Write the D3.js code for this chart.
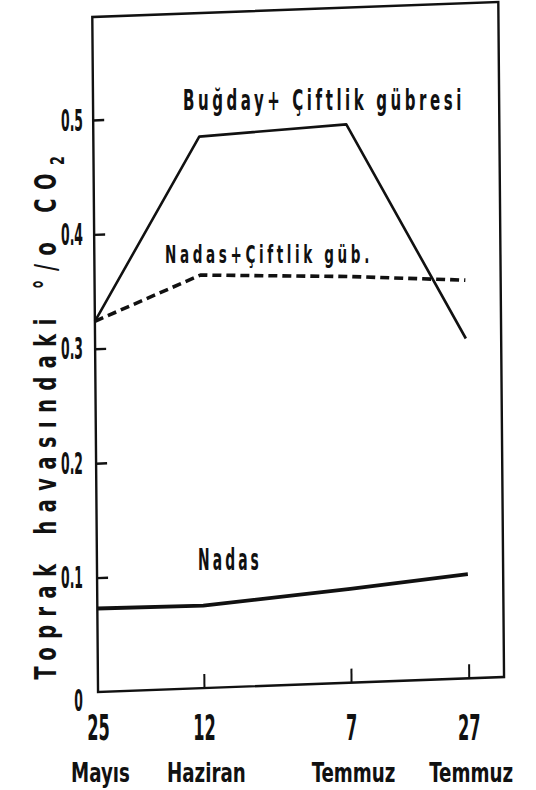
<!DOCTYPE html>
<html>
<head>
<meta charset="utf-8">
<script src="https://cdn.jsdelivr.net/npm/d3@7"></script>
<style>
  html, body { margin: 0; padding: 0; background: #fff; }
  svg { display: block; }
  text { font-family: "DejaVu Sans Condensed", "DejaVu Sans", sans-serif; font-weight: bold; fill: #111; }
</style>
</head>
<body>
<svg id="chart" width="536" height="790"></svg>
<script>
// Sampling dates (month-day) and their two-line axis labels
const sampleDates = ["05-25", "06-12", "07-07", "07-27"];
const dayLabels = ["25", "12", "7", "27"];
const monthLabels = ["Mayıs", "Haziran", "Temmuz", "Temmuz"];

// CO2 content of soil air (%) for each treatment
const seriesNames = ["Buğday+ Çiftlik gübresi", "Nadas+Çiftlik güb.", "Nadas"];
const bugdayGubre = [0.324, 0.482, 0.488, 0.297];
const nadasGubre = [0.324, 0.361, 0.355, 0.348];
const nadas = [0.073, 0.072, 0.082, 0.091];

// Value axis ticks
const yTicks = [0, 0.1, 0.2, 0.3, 0.4, 0.5];
const yTickLabels = ["0", "0.1", "0.2", "0.3", "0.4", "0.5"];

const parse = d3.timeParse("%m-%d");
const dates = sampleDates.map(parse);

const W = 406, H = 675;
const x = d3.scaleTime().domain([parse("05-25"), parse("08-02")]).range([0, W]);
const y = d3.scaleLinear().domain([0, 0.59]).range([H, 0]);

const svg = d3.select("#chart");
svg.append("rect").attr("width", 536).attr("height", 790).attr("fill", "#fff");

// The inked plate (frame, ticks, curves) leans slightly; lettering stays upright.
const plot = svg.append("g").attr("transform", "matrix(1,-0.037,0.0085,1,92.3,17)");
const labels = svg.append("g").attr("transform", "translate(98,17)");

// Narrow lettering: compress each text run horizontally about its anchor.
// `factor` is a number, or a function returning one from the natural width.
function narrow(sel, factor) {
  sel.each(function (d, i) {
    const t = d3.select(this);
    const w = this.getComputedTextLength();
    const f = typeof factor === "function" ? factor(w, d, i) : factor;
    const tx = +t.attr("x") || 0, ty = +t.attr("y") || 0;
    const prev = t.attr("transform") || "";
    t.attr("x", 0).attr("y", 0)
      .attr("transform", `translate(${tx},${ty}) ${prev} scale(${f},1)`);
  });
}

// Frame
plot.append("rect")
  .attr("width", W).attr("height", H)
  .attr("fill", "none").attr("stroke", "#111").attr("stroke-width", 2.4);

// Inward tick marks
plot.append("g")
  .call(d3.axisLeft(y).tickValues(yTicks.slice(1)).tickSize(-11).tickFormat(""))
  .call(g => g.select(".domain").remove())
  .selectAll("line").attr("stroke", "#111").attr("stroke-width", 2.4);

plot.append("g")
  .attr("transform", `translate(0,${H})`)
  .call(d3.axisBottom(x).tickValues(dates.slice(1)).tickSize(-14).tickFormat(""))
  .call(g => g.select(".domain").remove())
  .selectAll("line").attr("stroke", "#111").attr("stroke-width", 2);

// Curves
const series = [
  { name: seriesNames[0], values: bugdayGubre, width: 2.6, dash: null },
  { name: seriesNames[1], values: nadasGubre, width: 3.6, dash: "9,5" },
  { name: seriesNames[2], values: nadas, width: 3.8, dash: null }
];
const line = d3.line().x((d, i) => x(dates[i])).y(d => y(d));

plot.selectAll("path.curve")
  .data(series)
  .join("path")
  .attr("class", "curve")
  .attr("d", s => line(s.values))
  .attr("fill", "none")
  .attr("stroke", "#111")
  .attr("stroke-width", s => s.width)
  .attr("stroke-dasharray", s => s.dash)
  .attr("stroke-linejoin", "round");

// Value axis labels
const yLab = labels.append("g")
  .call(d3.axisLeft(y).tickValues(yTicks).tickSize(0).tickPadding(15)
    .tickFormat((d, i) => yTickLabels[i]))
  .call(g => g.select(".domain").remove());
yLab.selectAll("line").remove();
yLab.selectAll("text")
  .attr("font-size", 30)
  .attr("dy", d => d === 0 ? "0.6em" : "0.34em")
  .call(narrow, 0.46);

// Date axis labels: day number, then month name
const dayLab = labels.append("g")
  .attr("transform", `translate(0,${H})`)
  .call(d3.axisBottom(x).tickValues(dates).tickSize(0).tickPadding(22)
    .tickFormat((d, i) => dayLabels[i]))
  .call(g => g.select(".domain").remove());
dayLab.selectAll("line").remove();
dayLab.selectAll("text").attr("font-size", 36).call(narrow, 0.5);

const monLab = labels.append("g")
  .attr("transform", `translate(2,${H})`)
  .call(d3.axisBottom(x).tickValues(dates).tickSize(0).tickPadding(72)
    .tickFormat((d, i) => monthLabels[i]))
  .call(g => g.select(".domain").remove());
monLab.selectAll("line").remove();
monLab.selectAll("text").attr("font-size", 26).call(narrow, 0.78);

// Value axis title
const title = labels.append("text")
  .attr("x", -42).attr("y", H / 2 + 59)
  .attr("transform", "rotate(-90)")
  .attr("text-anchor", "middle")
  .attr("font-size", 30)
  .attr("letter-spacing", 12)
  .attr("word-spacing", 8);
title.append("tspan").text("Toprak havasındaki °/o CO");
title.append("tspan").attr("font-size", 20).attr("dy", 8).text("2");
title.call(narrow, w => 532 / w);

// Series labels
const seriesLabels = [
  { text: seriesNames[0], x: 85, y: 93, size: 28, len: 282 },
  { text: seriesNames[1], x: 67, y: 246, size: 25, len: 208 },
  { text: seriesNames[2], x: 100, y: 553, size: 30, len: 64 }
];
labels.selectAll("text.series")
  .data(seriesLabels)
  .join("text")
  .attr("class", "series")
  .attr("x", d => d.x)
  .attr("y", d => d.y)
  .attr("font-size", d => d.size)
  .attr("letter-spacing", 6)
  .text(d => d.text)
  .call(narrow, (w, d) => d.len / w);
</script>
</body>
</html>
